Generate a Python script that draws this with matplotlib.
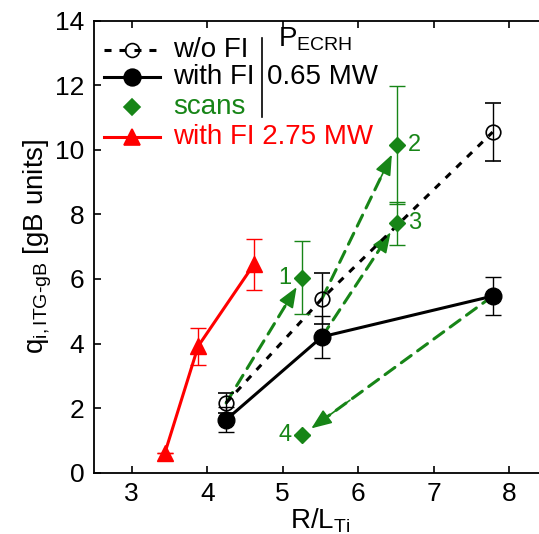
import matplotlib
matplotlib.use("Agg")
import matplotlib.pyplot as plt
from matplotlib.lines import Line2D

plt.rcParams['font.family'] = ['Liberation Sans', 'DejaVu Sans']
plt.rcParams['mathtext.fontset'] = 'custom'
plt.rcParams['mathtext.rm'] = 'Liberation Sans'
plt.rcParams['mathtext.it'] = 'Liberation Sans:italic'

# ---- data ----
wo_x = [4.25, 5.52, 7.78]
wo_y = [2.16, 5.39, 10.55]
wo_err = [0.30, 0.79, 0.89]

fi_x = [4.25, 5.52, 7.78]
fi_y = [1.64, 4.21, 5.47]
fi_err = [0.38, 0.65, 0.59]

scan_x = [5.26, 6.51, 6.51, 5.26]
scan_y = [6.04, 10.16, 7.73, 1.17]
scan_err = [1.13, 1.83, 0.67, 0.0]
scan_labels = ['1', '2', '3', '4']
scan_from = [(4.25, 2.16), (5.52, 5.39), (5.52, 4.21), (7.78, 5.47)]

hi_x = [3.44, 3.88, 4.62]
hi_y = [0.62, 3.92, 6.46]
hi_err = [0.0, 0.57, 0.79]

x_ticks = [3, 4, 5, 6, 7, 8]
y_ticks = [0, 2, 4, 6, 8, 10, 12, 14]

GREEN = '#178517'
RED = '#FF0000'
BLACK_DASH = (0, (2.3, 2.6))
GREEN_DASH = (0, (4.0, 2.6))

W, H = 539, 534
fig = plt.figure(figsize=(W / 100, H / 100), dpi=100)
ax = fig.add_axes([94 / W, (H - 472.7) / H, 453 / W, 452 / H])
ax.set_xlim(2.5, 8.5)
ax.set_ylim(0, 14)

# arrows (scans): dashed shaft + solid head
for (x0, y0), x1, y1 in zip(scan_from, scan_x, scan_y):
    shrinkB = 8
    ax.annotate('', xy=(x1, y1), xytext=(x0, y0),
                arrowprops=dict(arrowstyle='-', color=GREEN, lw=2.2,
                                linestyle=GREEN_DASH, shrinkA=0, shrinkB=shrinkB + 5),
                zorder=2)
    xm = x1 - 0.25 * (x1 - x0)
    ym = y1 - 0.25 * (y1 - y0)
    ax.annotate('', xy=(x1, y1), xytext=(xm, ym),
                arrowprops=dict(arrowstyle='-|>,head_length=1.25,head_width=0.5',
                                color=GREEN, lw=1.2, mutation_scale=10,
                                shrinkA=0, shrinkB=shrinkB),
                zorder=2)

ax.errorbar(wo_x, wo_y, yerr=wo_err, color='black', ls=BLACK_DASH, lw=2.2,
            marker='o', ms=10.5, mfc='none', mec='black', mew=1.2,
            elinewidth=1.0, capsize=5.5, capthick=1.0, zorder=3)
ax.errorbar(fi_x, fi_y, yerr=fi_err, color='black', ls='-', lw=2.2,
            marker='o', ms=12, mfc='black', mec='black',
            elinewidth=1.0, capsize=5.5, capthick=1.0, zorder=3)
ax.errorbar(scan_x, scan_y, yerr=scan_err, color=GREEN, ls='none',
            marker='D', ms=8.5, mfc=GREEN, mec=GREEN,
            elinewidth=1.0, capsize=5.5, capthick=1.0, zorder=4)
ax.errorbar(hi_x, hi_y, yerr=hi_err, color=RED, ls='-', lw=2.2,
            marker='^', ms=12, mfc=RED, mec=RED,
            elinewidth=1.0, capsize=5.5, capthick=1.0, zorder=3)

for lab, x, y in zip(scan_labels, scan_x, scan_y):
    if lab in ('1', '4'):
        ax.annotate(lab, (x, y), xytext=(-8, 0), textcoords='offset points',
                    ha='right', va='center', color=GREEN, fontsize=17)
    else:
        ax.annotate(lab, (x, y), xytext=(8, 0), textcoords='offset points',
                    ha='left', va='center', color=GREEN, fontsize=17)

ax.set_xticks(x_ticks)
ax.set_yticks(y_ticks)
ax.tick_params(direction='in', top=True, right=True, length=5, width=1.2,
               labelsize=19, pad=7)
for s in ax.spines.values():
    s.set_linewidth(1.3)

ax.set_xlabel(r'R/L$_{\mathregular{Ti}}$', fontsize=20, labelpad=0)
ax.set_ylabel(r'q$_{\mathregular{i,ITG‐gB}}$ [gB units]', fontsize=20, labelpad=1)

# legend (manual)
tr = ax.transAxes
rows = [0.935, 0.876, 0.810, 0.743]
lx0, lx1, lm, tx = 0.022, 0.146, 0.083, 0.174
entries = [
    dict(ls=BLACK_DASH, marker='o', mfc='none', ms=10, color='black', label='w/o FI', tc='black'),
    dict(ls='-', marker='o', mfc='black', ms=12, color='black', label='with FI', tc='black'),
    dict(ls='none', marker='D', mfc=GREEN, ms=8.5, color=GREEN, label='scans', tc=GREEN),
    dict(ls='-', marker='^', mfc=RED, ms=12, color=RED, label='with FI 2.75 MW', tc=RED),
]
for r, e in zip(rows, entries):
    ax.add_line(Line2D([lx0, lx1], [r, r], transform=tr, color=e['color'], ls=e['ls'], lw=2.2, clip_on=False))
    ax.add_line(Line2D([lm], [r], transform=tr, color=e['color'], marker=e['marker'], ms=e['ms'],
                       mfc=e['mfc'], mec=e['color'], mew=1.2, ls='none', clip_on=False))
    ax.text(tx, r, e['label'], transform=tr, color=e['tc'], fontsize=20, va='center', ha='left')

ax.add_line(Line2D([0.370, 0.370], [0.788, 0.961], transform=tr, color='black', lw=1.2))
ax.text(0.407, 0.958, r'P$_{\mathregular{ECRH}}$', transform=tr, fontsize=20, va='center', ha='left')
ax.text(0.381, 0.876, '0.65 MW', transform=tr, fontsize=20, va='center', ha='left')

fig.savefig('out.png', dpi=100)
